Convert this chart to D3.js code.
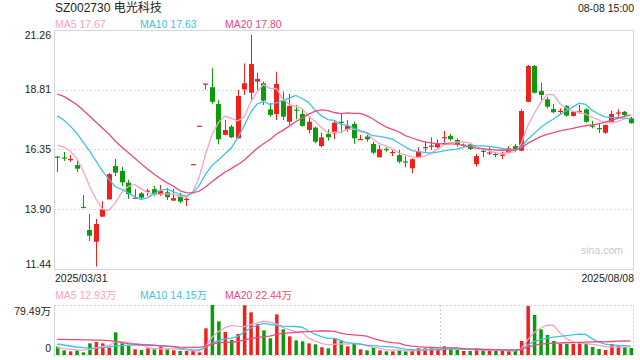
<!DOCTYPE html>
<html><head><meta charset="utf-8">
<script src="https://cdn.jsdelivr.net/npm/d3@7"></script>
<style>
html,body{margin:0;padding:0;background:#fff;}
svg{display:block;font-family:"Liberation Sans",Arial,"Noto Sans CJK SC",sans-serif;}
</style>
</head><body>
<svg id="c" width="640" height="360"></svg>
<script>
const title = "SZ002730 电光科技";
const timeLabel = "08-08 15:00";
const dates = ["2025/03/31","2025/04/01","2025/04/02","2025/04/03","2025/04/07","2025/04/08","2025/04/09","2025/04/10","2025/04/11",
"2025/04/14","2025/04/15","2025/04/16","2025/04/17","2025/04/18","2025/04/21","2025/04/22","2025/04/23","2025/04/24","2025/04/25",
"2025/04/28","2025/04/29","2025/04/30","2025/05/06","2025/05/07","2025/05/08","2025/05/09","2025/05/12","2025/05/13","2025/05/14",
"2025/05/15","2025/05/16","2025/05/19","2025/05/20","2025/05/21","2025/05/22","2025/05/23","2025/05/26","2025/05/27","2025/05/28",
"2025/05/29","2025/05/30","2025/06/03","2025/06/04","2025/06/05","2025/06/06","2025/06/09","2025/06/10","2025/06/11","2025/06/12",
"2025/06/13","2025/06/16","2025/06/17","2025/06/18","2025/06/19","2025/06/20","2025/06/23","2025/06/24","2025/06/25","2025/06/26",
"2025/06/27","2025/06/30","2025/07/01","2025/07/02","2025/07/03","2025/07/04","2025/07/07","2025/07/08","2025/07/09","2025/07/10",
"2025/07/11","2025/07/14","2025/07/15","2025/07/16","2025/07/17","2025/07/18","2025/07/21","2025/07/22","2025/07/23","2025/07/24",
"2025/07/25","2025/07/28","2025/07/29","2025/07/30","2025/07/31","2025/08/01","2025/08/04","2025/08/05","2025/08/06","2025/08/07","2025/08/08"];

const open  = [16.06,16.02,15.93,15.71,13.99,13.04,12.56,13.59,14.30,15.67,15.47,14.99,14.33,14.55,14.62,14.72,14.51,14.59,14.25,14.45,
14.28,15.75,17.33,19.06,18.91,18.22,16.95,17.29,16.81,18.82,18.68,19.14,19.07,18.00,17.81,18.36,17.49,17.99,17.81,17.15,
17.25,16.49,16.99,17.02,17.49,17.15,17.40,16.76,16.88,16.58,16.03,16.37,16.22,16.12,15.86,15.58,16.03,16.43,16.48,16.44,
16.84,16.91,16.74,16.52,16.56,15.75,16.30,16.21,16.17,16.11,16.22,16.49,16.30,18.31,19.78,18.75,18.41,18.01,17.92,18.14,
17.73,17.92,18.00,17.33,17.23,17.04,17.49,17.85,17.90,17.63];
const high  = [16.08,16.25,16.12,15.92,14.48,13.70,13.50,14.23,15.38,15.96,15.64,15.10,14.72,14.60,14.73,14.85,14.89,14.77,14.73,14.56,
14.41,15.75,17.33,19.06,19.69,18.38,17.56,17.36,18.80,19.89,21.06,19.51,19.14,18.26,19.55,18.73,18.63,18.18,17.97,17.70,
17.29,17.04,17.18,17.56,17.84,17.56,17.49,16.95,16.95,16.67,16.54,16.44,16.33,16.33,16.08,15.99,16.44,16.67,16.85,16.77,
17.11,16.99,16.81,16.60,16.60,16.17,16.36,16.44,16.24,16.26,16.49,16.58,18.00,19.82,19.82,19.10,18.52,18.22,18.04,18.18,
17.94,18.18,18.04,17.53,17.40,17.38,17.94,18.00,17.93,17.70];
const low   = [15.43,15.88,15.84,15.43,13.95,12.59,11.54,13.59,14.30,15.26,14.85,14.32,14.33,14.32,14.44,14.44,14.44,14.27,14.23,14.15,
14.03,15.75,17.33,18.82,18.21,16.56,16.95,16.82,16.81,18.59,18.38,18.80,18.18,17.70,17.56,17.56,17.36,17.59,17.29,17.02,
16.61,16.44,16.71,16.77,17.02,17.08,16.58,16.74,16.67,16.17,16.03,16.26,16.08,15.78,15.62,15.37,16.00,16.26,16.33,16.40,
16.63,16.71,16.47,16.47,16.33,15.64,16.03,16.12,16.03,15.95,16.19,16.26,16.28,18.30,18.65,18.38,18.04,17.84,17.81,17.70,
17.70,17.81,17.45,17.22,17.02,16.99,17.48,17.70,17.70,17.41];
const close = [16.02,15.98,15.96,15.56,13.95,12.81,13.29,13.89,15.34,15.40,15.00,14.52,14.37,14.37,14.66,14.52,14.65,14.39,14.35,14.21,
14.32,15.75,17.33,19.06,18.31,16.77,17.15,16.85,18.55,19.07,19.86,19.25,18.36,17.77,19.04,17.70,18.14,17.95,17.32,17.49,
16.67,16.85,16.85,17.45,17.44,17.32,16.81,16.78,16.77,16.22,16.36,16.35,16.25,15.85,15.84,15.95,16.26,16.45,16.51,16.60,
16.86,16.77,16.54,16.55,16.37,16.08,16.28,16.23,16.14,16.14,16.40,16.36,17.93,19.78,18.68,18.59,18.11,17.88,17.94,17.74,
17.90,17.94,17.49,17.30,17.21,17.36,17.81,17.87,17.77,17.43];
// volume in 万
const volume = [13.25,7.4,5.8,7.4,4.2,18.5,20.7,18.5,11.7,36.0,18.5,14.3,9.0,7.9,10.6,9.0,13.2,9.0,7.4,6.4,
6.4,6.4,4.2,42.4,79.49,53.5,36.6,23.8,33.4,78.9,67.8,48.8,39.2,26.5,64.6,40.8,29.7,23.3,21.7,18.5,
17.0,12.2,10.6,26.5,23.3,13.8,18.5,9.0,7.4,12.2,7.4,5.8,5.8,7.4,5.8,7.4,10.6,10.6,12.2,9.0,
13.8,10.6,7.9,6.4,6.4,10.6,6.4,6.4,6.4,6.4,6.4,7.9,22.3,77.9,63.6,40.8,31.8,22.3,17.5,17.5,
17.5,20.1,17.5,12.7,9.5,7.9,17.5,15.4,12.7,11.1];

// moving-average values before enough visible days exist
const ma5Head  = [16.53,16.45,16.29,16.00];
const ma10Head = [17.73,17.56,17.32,17.03,16.66,16.29,15.88,15.47,15.14];
const ma20Head = [18.63,18.53,18.38,18.20,17.97,17.73,17.48,17.23,16.99,16.70,16.45,16.23,16.00,15.77,15.55,15.34,15.16,14.99,14.85];
const vma5Head  = [11.5,10.0,9.0,8.0];
const vma10Head = [17.5,15.9,14.3,12.7,11.7,10.6,10.6,11.7,12.7];
const vma20Head = [24.9,24.7,24.5,24.3,24.1,23.9,23.7,23.5,23.0,21.5,19.5,18.0,17.2,16.5,15.8,15.2,14.6,14.0,13.3];

const priceTicks = [21.26, 18.81, 16.35, 13.90, 11.44];
const volTicks = [79.49, 0];
const priceLegend = [["MA5","17.67"],["MA10","17.63"],["MA20","17.80"]];
const volLegend = [["MA5","12.93万"],["MA10","14.15万"],["MA20","22.44万"]];

const UP = "#f2201b", DOWN = "#0b9b0b";
const MA_COLORS = ["#f7a3c3", "#3ec3e3", "#ea4a80"];

function movingAvg(arr, n, head) {
  return arr.map((_, i) => i < n - 1 ? head[i] : d3.mean(arr.slice(i - n + 1, i + 1)));
}

const svg = d3.select("#c");
const L = 54, R = 634, T = 30, B = 269, VT = 305, VB = 355;
const idx = d3.range(dates.length);
const x = d3.scaleBand().domain(idx).range([L, R]);
const cx = i => x(i) + x.bandwidth() / 2;
const y = d3.scaleLinear().domain([11.44, 21.26]).range([B, T]);
const yv = d3.scaleLinear().domain([0, 79.49]).range([VB, VT]);

// ---- main panel frame & grid
const grid = svg.append("g");
priceTicks.slice(1, -1).forEach(t => {
  grid.append("line").attr("x1", L).attr("x2", R).attr("y1", Math.round(y(t)) + 0.5).attr("y2", Math.round(y(t)) + 0.5)
    .attr("stroke", "#dcdcdc").attr("stroke-dasharray", "2,2");
});
svg.append("rect").attr("x", L + 0.5).attr("y", T + 0.5).attr("width", R - L - 1).attr("height", B - T)
  .attr("fill", "none").attr("stroke", "#d6d6d6");

// y labels
const yl = svg.append("g").attr("font-size", "10.5px").attr("fill", "#222").attr("text-anchor", "end");
priceTicks.forEach((t, k) => {
  const off = k === 0 ? 5 : (k === priceTicks.length - 1 ? -5 : 0);
  yl.append("text").attr("x", 51).attr("y", y(t) + off).attr("dy", "0.35em").text(t.toFixed(2));
});

// watermark
svg.append("text").attr("x", 623).attr("y", 250).attr("dy", "0.35em").attr("text-anchor", "end")
  .attr("font-size", "10.5px").attr("fill", "#c8c8c8").text("sina.com");

// candles
const cw = 5;
const cg = svg.append("g");
idx.forEach(i => {
  const up = close[i] >= open[i];
  const col = up ? UP : DOWN;
  const xc = Math.round(cx(i)) + 0.5;
  cg.append("line").attr("x1", xc).attr("x2", xc).attr("y1", y(high[i])).attr("y2", y(low[i]))
    .attr("stroke", col).attr("stroke-width", 1);
  const top = y(Math.max(open[i], close[i])), bot = y(Math.min(open[i], close[i]));
  cg.append("rect").attr("x", xc - cw / 2).attr("y", top).attr("width", cw).attr("height", Math.max(1.2, bot - top))
    .attr("fill", col);
});

// MA lines
const maLine = d3.line().x((d, i) => cx(i)).y(d => y(d));
[[5, ma5Head], [10, ma10Head], [20, ma20Head]].forEach(([n, head], k) => {
  svg.append("path").datum(movingAvg(close, n, head)).attr("d", maLine)
    .attr("fill", "none").attr("stroke", MA_COLORS[k]).attr("stroke-width", 1.3);
});

// header texts
svg.append("text").attr("x", 55).attr("y", 8).attr("dy", "0.35em").attr("font-size", "12px").attr("fill", "#222").text(title);
svg.append("text").attr("x", 634).attr("y", 8).attr("dy", "0.35em").attr("text-anchor", "end")
  .attr("font-size", "10.5px").attr("fill", "#222").text(timeLabel);
const legX = [55, 140, 225];
priceLegend.forEach((d, k) => {
  svg.append("text").attr("x", legX[k]).attr("y", 24).attr("dy", "0.35em").attr("font-size", "10.5px")
    .attr("fill", MA_COLORS[k]).text(d[0] + " " + d[1]);
});
// date labels
svg.append("text").attr("x", 55).attr("y", 278).attr("dy", "0.35em").attr("font-size", "10.5px").attr("fill", "#222").text(dates[0]);
svg.append("text").attr("x", 634).attr("y", 278).attr("dy", "0.35em").attr("text-anchor", "end")
  .attr("font-size", "10.5px").attr("fill", "#222").text(dates[dates.length - 1]);

// ---- volume panel
volLegend.forEach((d, k) => {
  svg.append("text").attr("x", legX[k]).attr("y", 295).attr("dy", "0.35em").attr("font-size", "10.5px")
    .attr("fill", MA_COLORS[k]).text(d[0] + " " + d[1]);
});
const vg = svg.append("g");
[VT, VB].forEach(yy => vg.append("line").attr("x1", L).attr("x2", R).attr("y1", yy + 0.5).attr("y2", yy + 0.5)
  .attr("stroke", "#d0d0d0").attr("stroke-dasharray", "2,2"));
[1, 2, 3].forEach(k => {
  const xx = Math.round(L + (R - L) * k / 3) - 0.5;
  vg.append("line").attr("x1", xx).attr("x2", xx).attr("y1", VT).attr("y2", VB)
    .attr("stroke", "#d0d0d0").attr("stroke-dasharray", "2,2");
});
vg.append("line").attr("x1", L + 0.5).attr("x2", L + 0.5).attr("y1", VT).attr("y2", VB).attr("stroke", "#d6d6d6");

const vl = svg.append("g").attr("font-size", "10.5px").attr("fill", "#222").attr("text-anchor", "end");
vl.append("text").attr("x", 51).attr("y", yv(volTicks[0]) + 6).attr("dy", "0.35em").text(volTicks[0].toFixed(2) + "万");
vl.append("text").attr("x", 51).attr("y", yv(volTicks[1]) - 7).attr("dy", "0.35em").text(String(volTicks[1]));

const bw = 3.5;
idx.forEach(i => {
  const up = close[i] >= open[i];
  svg.append("rect").attr("x", cx(i) - bw / 2 + 0.5).attr("y", yv(volume[i])).attr("width", bw)
    .attr("height", yv(0) - yv(volume[i])).attr("fill", up ? UP : DOWN);
});
const vLine = d3.line().x((d, i) => cx(i)).y(d => yv(d));
[[5, vma5Head], [10, vma10Head], [20, vma20Head]].forEach(([n, head], k) => {
  svg.append("path").datum(movingAvg(volume, n, head)).attr("d", vLine)
    .attr("fill", "none").attr("stroke", MA_COLORS[k]).attr("stroke-width", 1.3);
});
</script>
</body></html>
